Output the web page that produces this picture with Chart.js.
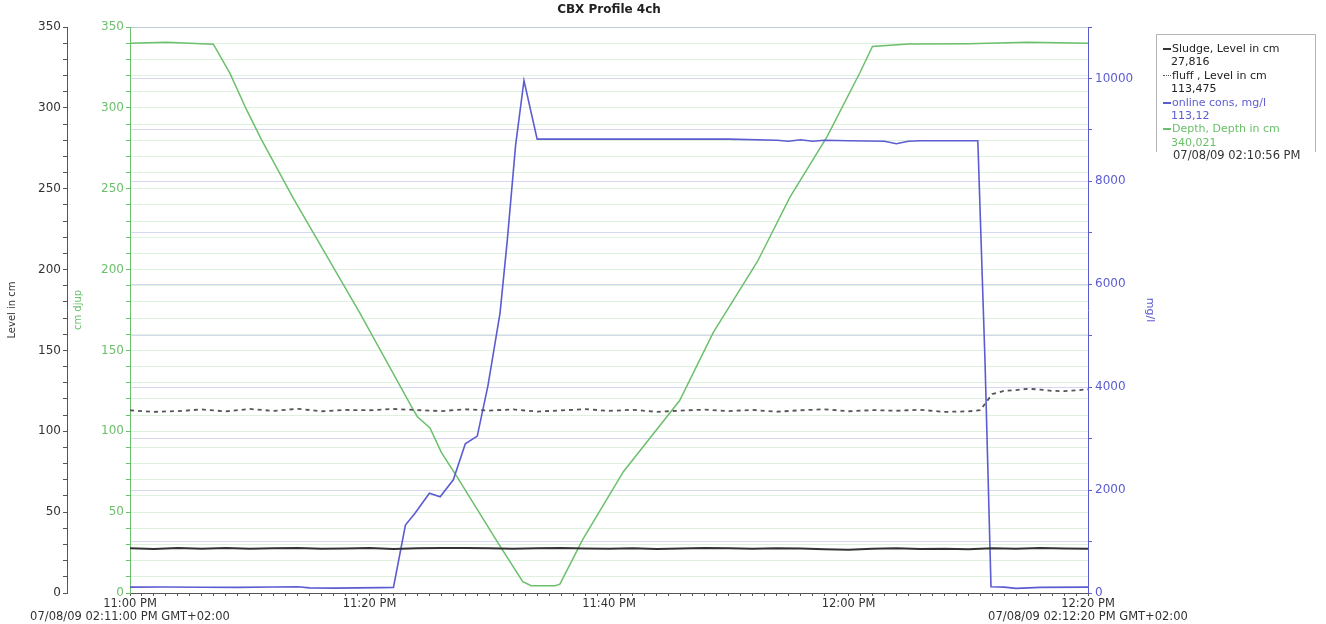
<!DOCTYPE html>
<html lang="en">
<head>
  <meta charset="UTF-8">
  <title>CBX Profile 4ch</title>
  <script src="https://cdn.jsdelivr.net/npm/chart.js"></script>
  <style>
    body { margin: 0; background: #fff; font-family: "DejaVu Sans", sans-serif; }
    #wrap { position: relative; width: 1326px; height: 624px; }
    #cbx { position: absolute; left: 0; top: 0; }
    .legend { position: absolute; left: 1156px; top: 34px; width: 160px; height: 118px; border: 1px solid #b5b5b5; border-bottom: none; box-sizing: border-box; padding: 7px 0 0 6px; font-size: 11px; line-height: 13.4px; white-space: nowrap; }
    .legend .mark { display: inline-block; width: 8px; height: 0; vertical-align: middle; margin-right: 1px; }
    .legend .val { padding-left: 8px; }
    .stamp { position: absolute; left: 1173px; top: 148px; font-size: 11.5px; line-height: 14px; color: #333; background: #fff; }
  </style>
</head>
<body>
  <div id="wrap">
    <canvas id="cbx" width="1326" height="624"></canvas>
    <div class="legend" id="legend"></div>
    <div class="stamp" id="stamp"></div>
  </div>

  <script>
    // minutes after 11:00 PM
    const sludgeMin = [0, 2, 4, 6, 8, 10, 12, 14, 16, 18, 20, 22, 24, 26, 28, 30, 32, 34, 36, 38, 40, 42, 44, 46, 48, 50, 52, 54, 56, 58, 60, 62, 64, 66, 68, 70, 72, 74, 76, 78, 80];
    const sludgeVal = [27.6, 27.2, 27.8, 27.3, 27.9, 27.4, 27.6, 27.9, 27.3, 27.5, 27.8, 27.2, 27.6, 27.9, 27.8, 27.6, 27.4, 27.6, 27.8, 27.5, 27.3, 27.7, 27.2, 27.5, 27.8, 27.6, 27.4, 27.7, 27.5, 27.0, 26.8, 27.3, 27.6, 27.2, 27.4, 27.1, 27.6, 27.3, 27.8, 27.5, 27.4];

    const fluffMin = [0, 2, 4, 6, 8, 10, 12, 14, 16, 18, 20, 22, 24, 26, 28, 30, 32, 34, 36, 38, 40, 42, 44, 46, 48, 50, 52, 54, 56, 58, 60, 62, 64, 66, 68, 70, 71, 72, 73, 74, 75, 76, 77, 78, 79, 80];
    const fluffVal = [113.0, 112.0, 112.5, 113.5, 112.3, 113.8, 112.6, 113.9, 112.4, 113.2, 113.0, 113.8, 113.1, 112.5, 113.6, 112.8, 113.5, 112.2, 112.9, 113.7, 112.6, 113.3, 112.0, 112.8, 113.4, 112.5, 113.2, 112.1, 113.0, 113.6, 112.4, 113.1, 112.7, 113.3, 112.0, 112.3, 113.0, 123.0, 125.0, 125.5, 126.3, 125.8, 125.0, 124.8, 125.3, 126.0];

    const consMin = [0, 3, 6, 9, 12, 14, 15, 17, 19, 21, 22, 23, 23.8, 25, 25.9, 27, 28, 29, 29.9, 30.9, 31.5, 32.2, 32.9, 34, 40, 50, 54, 55, 56, 57, 58, 60, 63, 64, 65, 66, 70.8, 71.4, 71.9, 73, 74, 76, 80];
    const consVal = [115, 118, 112, 110, 116, 120, 100, 95, 100, 105, 110, 1320, 1550, 1940, 1870, 2200, 2900, 3050, 4040, 5440, 6840, 8700, 9960, 8820, 8820, 8820, 8800, 8780, 8810, 8780, 8800, 8790, 8780, 8730, 8780, 8790, 8790, 4500, 120, 115, 90, 110, 115];

    const depthMin = [0, 3, 5, 6.96, 8.35, 9.74, 11.0, 13.64, 19.2, 23.6, 24.0, 25.05, 26.0, 27.3, 30.9, 32.8, 33.5, 35.5, 35.9, 37.8, 41.2, 45.9, 48.7, 52.4, 55.1, 58.2, 60.95, 62.0, 65, 70, 75, 80];
    const depthVal = [340, 340.5, 340, 339.4, 321.3, 298.7, 280, 244, 173, 114, 109, 102, 87, 72, 29, 7, 4.5, 4.5, 5.5, 33, 75, 119, 161, 205, 244.6, 282, 321.7, 338, 339.5, 339.6, 340.5, 340];

    const xTickMin = [0, 20, 40, 60, 80];
    const xTickText = [
      ['11:00 PM', '07/08/09 02:11:00 PM GMT+02:00'],
      ['11:20 PM'],
      ['11:40 PM'],
      ['12:00 PM'],
      ['12:20 PM', '07/08/09 02:12:20 PM GMT+02:00']
    ];
    const levelTicks = [0, 50, 100, 150, 200, 250, 300, 350];
    const consTicks = [0, 2000, 4000, 6000, 8000, 10000];

    const legendNames = ['Sludge, Level in cm', 'fluff , Level in cm', 'online cons, mg/l', 'Depth, Depth in cm'];
    const legendValues = ['27,816', '113,475', '113,12', '340,021'];
    const legendStamp = '07/08/09 02:10:56 PM';

    const GREEN = '#6cbf6c';
    const BLUE = '#5c5cd2';
    const pts = (xs, ys) => xs.map((x, i) => ({ x: x, y: ys[i] }));

    Chart.defaults.font.family = '"DejaVu Sans", sans-serif';
    Chart.defaults.font.size = 12;

    const chart = new Chart(document.getElementById('cbx'), {
      type: 'line',
      data: {
        datasets: [
          { label: legendNames[0], data: pts(sludgeMin, sludgeVal), yAxisID: 'yL', borderColor: '#333', borderWidth: 2, pointRadius: 0, tension: 0 },
          { label: legendNames[1], data: pts(fluffMin, fluffVal), yAxisID: 'yL', borderColor: '#555', borderWidth: 1.8, borderDash: [4, 4], pointRadius: 0, tension: 0 },
          { label: legendNames[2], data: pts(consMin, consVal), yAxisID: 'yR', borderColor: BLUE, borderWidth: 1.6, pointRadius: 0, tension: 0 },
          { label: legendNames[3], data: pts(depthMin, depthVal), yAxisID: 'yD', borderColor: GREEN, borderWidth: 1.5, pointRadius: 0, tension: 0 }
        ]
      },
      options: {
        responsive: false,
        animation: false,
        layout: { padding: { left: 0, right: 168, top: 0, bottom: 0 } },
        plugins: {
          legend: { display: false },
          tooltip: { enabled: false },
          title: {
            display: true,
            text: 'CBX Profile 4ch',
            fullSize: false,
            color: '#222',
            font: { size: 12, weight: 'bold' },
            padding: { top: 3, bottom: 9.6 }
          }
        },
        scales: {
          x: {
            type: 'linear', min: 0, max: 80,
            afterFit: s => { s.height = 31; },
            border: { color: '#555' },
            grid: { drawOnChartArea: false, tickLength: 3, tickColor: '#555' },
            ticks: {
              stepSize: 1, maxTicksLimit: 200, autoSkip: false, maxRotation: 0, padding: 2, color: '#333',
              font: { size: 11.5, lineHeight: 1.13 },
              callback: v => { const i = xTickMin.indexOf(v); return i < 0 ? '' : xTickText[i]; }
            }
          },
          yD: {
            position: 'left', min: 0, max: 350,
            afterFit: s => { s.width = 63; },
            border: { color: GREEN },
            grid: { color: 'rgba(120, 200, 120, 0.25)', tickColor: GREEN, tickLength: 4 },
            title: { display: true, text: 'cm djup', color: GREEN, font: { size: 10 }, padding: { top: 5, bottom: 0 } },
            ticks: {
              stepSize: 10, maxTicksLimit: 100, autoSkip: false, padding: 2, color: GREEN,
              callback: v => levelTicks.includes(v) ? String(v) : ''
            }
          },
          yL: {
            position: 'left', min: 0, max: 350,
            afterFit: s => { s.width = 67; },
            border: { color: '#555' },
            grid: { drawOnChartArea: false, tickColor: '#555', tickLength: 4 },
            title: { display: true, text: 'Level in cm', color: '#333', font: { size: 10 }, padding: { top: 6, bottom: 0 } },
            ticks: {
              stepSize: 10, maxTicksLimit: 100, autoSkip: false, padding: 2, color: '#333',
              callback: v => levelTicks.includes(v) ? String(v) : ''
            }
          },
          yR: {
            position: 'right', min: 0, max: 11000,
            afterFit: s => { s.width = 70; },
            border: { color: BLUE },
            grid: { color: 'rgba(110, 110, 210, 0.28)', tickColor: BLUE, tickLength: 4 },
            title: { display: true, text: 'mg/l', color: BLUE, font: { size: 11 }, padding: { top: 2, bottom: 0 } },
            ticks: {
              stepSize: 1000, maxTicksLimit: 100, autoSkip: false, padding: 3, color: BLUE,
              callback: v => consTicks.includes(v) ? String(v) : ''
            }
          }
        }
      }
    });

    // side legend, built from the datasets
    const textColors = ['#222', '#222', BLUE, GREEN];
    const legendEl = document.getElementById('legend');
    chart.data.datasets.forEach((ds, i) => {
      const row = document.createElement('div');
      row.style.color = textColors[i];
      const mark = document.createElement('span');
      mark.className = 'mark';
      mark.style.borderTop = (ds.borderDash ? '1px dotted ' : '2px solid ') + ds.borderColor;
      row.appendChild(mark);
      row.appendChild(document.createTextNode(legendNames[i]));
      const val = document.createElement('div');
      val.className = 'val';
      val.style.color = textColors[i];
      val.textContent = legendValues[i];
      legendEl.appendChild(row);
      legendEl.appendChild(val);
    });
    document.getElementById('stamp').textContent = legendStamp;
  </script>
</body>
</html>
